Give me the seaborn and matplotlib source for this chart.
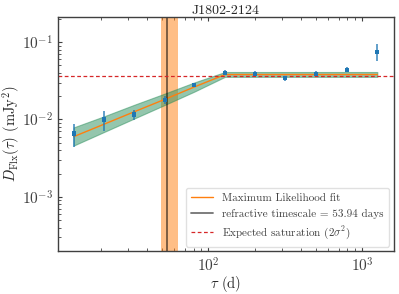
import numpy as np
import pandas as pd
import matplotlib
matplotlib.use("Agg")
import matplotlib.pyplot as plt
import seaborn as sns

# structure function points (tau in days, D in mJy^2)
tau = [13.3, 21.0, 33.0, 52.0, 81.0, 128.0, 200.0, 316.0, 500.0, 790.0, 1250.0]
dflx = [0.0066, 0.0100, 0.0116, 0.0180, 0.0280, 0.0400, 0.0390, 0.0340, 0.0390, 0.0440, 0.0750]
dflx_err = [0.0022, 0.0030, 0.0018, 0.0020, 0.0020, 0.0030, 0.0030, 0.0025, 0.0030, 0.0035, 0.0180]

# maximum likelihood fit and its band, at the same taus
fit_mid = [0.0060, 0.0087, 0.0126, 0.0182, 0.0263, 0.0380, 0.0380, 0.0380, 0.0380, 0.0380, 0.0380]
fit_lo = [0.0046, 0.0069, 0.0103, 0.0154, 0.0229, 0.0355, 0.0355, 0.0355, 0.0355, 0.0355, 0.0355]
fit_hi = [0.0079, 0.0110, 0.0155, 0.0216, 0.0301, 0.0410, 0.0410, 0.0410, 0.0410, 0.0410, 0.0410]

t_ref = 53.94
t_ref_lo = 49.5
t_ref_hi = 63.0
saturation = 0.036

df = pd.DataFrame({"tau": tau, "dflx": dflx, "err": dflx_err,
                   "fit": fit_mid, "lo": fit_lo, "hi": fit_hi})

sns.set_style("ticks")
plt.rcParams["font.family"] = "serif"
plt.rcParams["font.serif"] = ["cmr10", "DejaVu Serif"]
plt.rcParams["mathtext.fontset"] = "cm"
plt.rcParams["axes.formatter.use_mathtext"] = True

fig = plt.figure(figsize=(3.99, 2.94), dpi=100)
ax = fig.add_axes([0.145, 0.146, 0.842, 0.796])

ax.axvspan(t_ref_lo, t_ref_hi, color="tab:orange", alpha=0.5, lw=0)
ax.fill_between(df["tau"], df["lo"], df["hi"], color="#2b8f5c", alpha=0.5, lw=0.8)
sns.lineplot(data=df, x="tau", y="fit", ax=ax, color="tab:orange", lw=1.0,
             label="Maximum Likelihood fit")
ax.axvline(t_ref, color="black", alpha=0.55, lw=1.3,
           label="refractive timescale = %.2f days" % t_ref)
ax.axhline(saturation, color="tab:red", ls=(0, (3, 2)), lw=0.9,
           label=r"Expected saturation $(2\sigma^2)$")
ax.errorbar(df["tau"], df["dflx"], yerr=df["err"], fmt="none",
            ecolor="tab:blue", alpha=0.7, elinewidth=1.4)
sns.scatterplot(data=df, x="tau", y="dflx", ax=ax, marker="s", s=9,
                color="tab:blue", edgecolor="none", zorder=5)

ax.set_xscale("log")
ax.set_yscale("log")
ax.set_xlim(10.5, 1600)
ax.set_ylim(2.0e-4, 0.21)

ax.set_title("J1802-2124", fontsize=10, pad=2, color=".15")
ax.set_xlabel(r"$\tau$ (d)", fontsize=10.5, labelpad=0, color=".15")
ax.set_ylabel(r"$D_{\rm Flx}(\tau)$ (mJy$^2$)", fontsize=10.5, labelpad=0,
              color=".15")

ax.tick_params(axis="both", which="both", direction="in", top=True,
               labelsize=11, colors=".25")
ax.tick_params(which="major", length=3)
ax.tick_params(which="minor", length=2)
for s in ax.spines.values():
    s.set_color(".25")
    s.set_linewidth(1.0)

leg = ax.legend(loc="lower right", fontsize=8, frameon=True, fancybox=True,
                handlelength=2.0, borderpad=0.5, labelspacing=0.5,
                borderaxespad=0.4)
leg.get_frame().set_edgecolor(".85")
for t in leg.get_texts():
    t.set_color(".25")

fig.savefig("out.png", dpi=100)
